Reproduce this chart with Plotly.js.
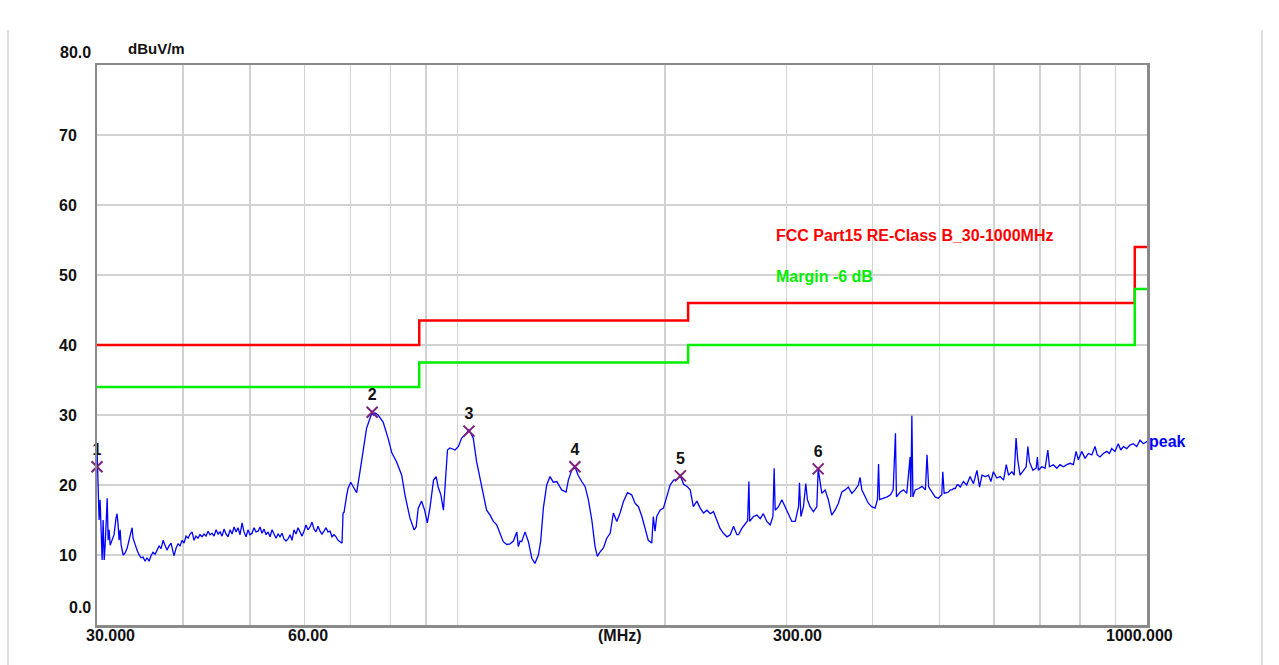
<!DOCTYPE html>
<html>
<head>
<meta charset="utf-8">
<script src="https://cdn.plot.ly/plotly-3.0.1.min.js"></script>
<style>
  html, body { margin: 0; padding: 0; background: #ffffff; }
  #chart { width: 1279px; height: 665px; }
</style>
</head>
<body>
<div id="chart"></div>
<script>
// ---- Measured spectrum (peak detector) ----
const traceFreq = [
  30.00,30.10,30.21,30.31,30.41,30.52,30.62,30.73,30.83,31.04,31.14,31.24,31.35,31.55,31.76,31.97,
  32.08,32.19,32.30,32.41,32.52,32.74,32.96,33.18,33.40,33.62,33.73,33.84,34.06,34.29,34.53,34.76,
  34.99,35.23,35.46,35.70,35.93,36.17,36.42,36.67,36.91,37.16,37.41,37.65,37.90,38.16,38.42,38.68,
  38.81,39.07,39.33,39.59,39.86,40.12,40.39,40.67,40.94,41.21,41.48,41.75,42.03,42.32,42.60,42.89,
  43.18,43.47,43.76,44.05,44.35,44.65,44.95,45.25,45.55,45.85,46.16,46.47,46.79,47.10,47.42,47.73,
  48.05,48.37,48.70,49.02,49.35,49.67,50.00,50.34,50.68,51.03,51.37,51.71,52.05,52.41,52.76,53.12,
  53.47,53.82,54.18,54.55,54.92,55.28,55.65,56.02,56.40,56.78,57.16,57.54,57.92,58.31,58.71,59.10,
  59.49,59.88,60.29,60.69,61.10,61.51,61.92,62.34,62.76,63.18,63.60,64.02,64.46,64.89,65.33,65.76,
  66.20,66.65,67.10,67.55,68.00,
  68.23,68.46,69.08,69.38,70.00,70.50,71.40,72.20,72.90,73.80,74.70,75.20,75.50,75.90,76.70,78.00,
  79.30,80.30,81.60,83.00,83.90,85.30,86.50,87.10,87.70,88.70,89.60,90.40,91.20,92.30,93.10,93.80,
  94.60,95.40,95.90,96.70,97.50,99.20,100.30,101.40,103.10,103.80,104.30,105.40,106.60,107.80,109.00,
  110.20,111.50,112.70,114.00,115.20,116.50,117.90,119.20,120.50,121.90,122.50,123.20,123.90,125.30,
  126.70,128.20,129.50,131.00,132.00,133.20,134.70,136.20,137.70,139.30,
  141.60,143.70,144.80,146.40,148.00,149.60,151.40,153.10,154.80,156.60,158.30,159.50,160.90,162.80,
  164.60,166.50,168.30,170.20,172.10,174.00,176.40,178.90,180.90,183.00,185.10,187.10,189.10,191.30,
  192.30,193.40,194.50,196.70,198.90,201.10,203.40,205.80,208.10,210.50,212.80,215.20,217.50,219.80,
  222.40,224.90,227.40,230.00,232.60,235.10,237.70,240.30,243.00,245.90,248.60,251.40,254.20,255.60,
  258.40,261.30,263.50,264.60,265.30,268.70,271.80,274.80,277.70,280.90,
  284.10,286.70,287.90,288.90,292.10,295.40,298.60,301.90,305.40,308.90,312.30,313.30,314.80,317.50,
  320.00,321.70,324.50,328.20,332.00,333.50,334.90,337.60,341.30,345.00,348.90,352.80,356.80,360.90,
  364.90,368.90,373.10,377.20,381.40,383.60,385.80,390.10,394.30,398.70,403.30,406.50,408.00,409.40,
  415.10,419.90,424.60,428.40,431.70,433.10,438.80,443.50,448.30,453.30,454.40,456.00,457.60,461.20,
  466.50,471.80,477.10,479.70,482.30,487.60,492.90,498.10,503.90,505.60,507.90,515.40,518.40,521.40,
  524.20,527.20,530.20,533.00,536.00,541.70,547.70,553.80,560.20,566.70,571.70,576.30,582.70,589.00,
  593.70,598.70,605.60,612.50,619.40,625.00,629.80,636.90,641.70,645.80,649.40,654.50,661.90,668.00,
  671.80,675.40,683.10,690.50,693.50,695.70,703.60,711.60,718.10,722.00,731.60,739.90,747.80,756.20,
  765.00,773.60,782.10,789.10,795.10,804.10,813.20,822.30,831.60,840.70,847.00,854.70,864.30,874.30,
  881.90,888.90,898.50,908.60,916.00,924.10,934.60,944.70,955.20,966.30,977.10,987.90,999.00,1000.00
];
const traceLevel = [
  25.4,19.3,15.0,17.9,12.1,9.3,15.0,9.3,11.4,18.1,12.1,13.6,11.4,12.1,12.9,15.3,
  15.9,14.3,12.1,13.6,11.4,10.0,10.3,11.0,12.1,13.6,13.9,12.4,11.4,10.7,10.0,9.6,
  9.7,9.1,9.6,9.1,9.9,10.4,10.1,10.7,11.3,10.9,12.1,11.4,10.7,11.3,11.7,10.4,
  9.9,11.0,11.6,11.3,12.1,11.7,12.7,12.4,13.0,13.3,12.1,12.7,12.4,12.9,12.6,13.0,
  12.7,13.4,12.9,13.1,12.7,13.6,13.0,13.3,12.7,13.7,13.0,12.6,13.6,13.0,14.0,13.3,
  13.9,12.9,14.6,13.3,12.6,13.6,12.9,13.1,13.9,13.3,13.4,14.0,13.1,13.7,12.9,13.3,
  12.6,13.6,13.1,12.4,13.0,12.6,13.1,12.3,12.0,12.3,12.9,12.1,13.6,13.0,13.9,13.3,
  12.7,13.4,14.3,13.6,14.0,14.7,13.7,13.3,14.1,13.4,13.0,13.4,13.9,13.3,13.4,12.6,
  12.9,12.6,12.1,11.9,11.7,
  16.0,16.1,18.6,19.5,20.4,19.8,18.9,21.9,24.7,28.1,29.6,30.4,30.0,30.3,30.0,29.0,
  26.7,24.6,23.3,21.4,18.6,15.3,13.6,14.0,16.7,17.7,16.4,14.6,16.7,20.7,21.2,19.6,
  18.6,16.4,19.6,25.0,25.3,25.0,25.5,26.7,27.4,27.9,27.6,26.7,23.3,21.0,18.6,
  16.4,15.7,14.8,14.3,13.1,11.9,11.5,11.6,12.0,13.3,11.2,12.0,11.9,13.3,
  11.9,9.5,8.8,10.0,11.9,16.7,20.0,21.2,20.4,20.5,
  19.3,19.0,20.7,22.1,22.6,21.4,20.5,19.8,17.9,15.0,11.2,9.8,10.4,11.0,
  12.4,13.1,16.0,14.8,16.0,17.6,18.9,18.6,17.4,16.9,15.5,13.6,12.1,11.7,
  15.5,13.4,15.5,16.4,16.7,18.3,20.0,20.7,20.8,21.3,20.1,19.8,19.3,16.9,
  17.7,16.7,16.0,16.4,15.9,16.2,15.0,13.8,13.1,12.6,12.9,14.1,12.9,12.9,
  13.8,14.5,14.9,20.5,14.8,15.5,15.7,15.2,15.9,14.8,
  14.3,15.5,22.4,16.4,16.9,17.9,16.9,16.0,14.8,14.8,16.9,20.3,15.5,16.9,
  20.2,17.9,16.9,16.2,16.9,22.3,21.0,18.8,19.3,17.9,15.7,16.4,17.4,19.0,
  19.3,19.7,18.8,19.3,20.0,21.1,19.3,18.3,17.4,16.9,16.7,17.9,23.0,17.9,
  18.1,18.3,18.6,19.3,27.4,18.3,19.0,19.3,18.8,24.0,18.3,29.9,18.3,19.3,
  19.5,19.8,19.3,24.3,19.7,19.0,18.3,18.1,18.6,21.9,18.8,19.0,19.3,19.3,
  19.5,19.5,20.0,20.0,19.7,20.5,20.0,21.2,20.2,22.1,19.7,21.4,21.2,21.4,
  20.5,21.9,21.0,21.2,20.7,22.9,21.4,21.9,21.4,26.7,23.6,21.4,22.1,22.6,
  25.5,23.3,22.1,22.4,24.0,22.1,22.6,22.4,25.0,22.6,22.9,22.4,22.9,22.6,
  22.9,23.1,22.9,24.8,23.6,24.8,23.8,24.5,24.3,25.5,24.3,24.0,24.5,24.8,
  24.5,25.2,24.8,25.9,25.0,25.5,25.2,25.7,25.9,25.5,26.4,25.9,26.2,26.2
];

// ---- Limit lines ----
const limitFreq  = [30, 88, 216, 960, 1000];
const fccLimit   = [40.0, 43.5, 46.0, 54.0, 54.0];
const marginLine = [34.0, 37.5, 40.0, 48.0, 48.0];

// ---- Marked peaks ----
const markerFreq   = [30.0, 75.2, 103.9, 148.0, 210.5, 333.5];
const markerLevel  = [22.6, 30.4, 27.7, 22.6, 21.3, 22.3];
const markerLabels = ['1', '2', '3', '4', '5', '6'];

// ---- Axis labels ----
const xTickLabels = ['30.000', '60.00', '(MHz)', '300.00', '1000.000'];
const yTickLabels = ['80.0', '70', '60', '50', '40', '30', '20', '10', '0.0'];
const xGridVals = [40, 50, 60, 70, 80, 90, 100, 200, 300, 400, 500, 600, 700, 800, 900];

// ---- Layout helpers (pixel -> paper) ----
const PL = 97, PR = 1147, PT = 65, PB = 625;
const px2paperX = p => (p - PL) / (PR - PL);
const py2paperY = p => (PB - p) / (PB - PT);

const FONT = 'Arial, "Liberation Sans", sans-serif';

const traces = [
  {
    x: limitFreq, y: fccLimit, type: 'scatter', mode: 'lines',
    line: { color: '#ff0000', width: 2.5, shape: 'hv' }, hoverinfo: 'skip'
  },
  {
    x: limitFreq, y: marginLine, type: 'scatter', mode: 'lines',
    line: { color: '#00ee00', width: 2.5, shape: 'hv' }, hoverinfo: 'skip'
  },
  {
    x: traceFreq, y: traceLevel, type: 'scatter', mode: 'lines',
    line: { color: '#0000ff', width: 1.3 }
  },
  {
    x: markerFreq, y: markerLevel, type: 'scatter', mode: 'markers+text',
    text: markerLabels, textposition: 'top center',
    textfont: { family: FONT, size: 16, color: '#111111', weight: 'bold' },
    marker: { symbol: 'x-thin', size: 11, line: { color: '#7d1f7d', width: 2 }, color: '#7d1f7d' },
    cliponaxis: false
  }
];

// tick label annotations
const xTickPx = [110, 308, 620, 797, 1139];
const annotations = [];
xTickLabels.forEach((t, i) => {
  annotations.push({
    xref: 'paper', yref: 'paper', x: px2paperX(xTickPx[i]), y: py2paperY(635),
    text: '<b>' + t + '</b>', showarrow: false, xanchor: 'center', yanchor: 'middle',
    font: { family: FONT, size: 16, color: '#111111' }
  });
});
const yTickPy = [52, 135, 205, 275, 345, 415, 485, 555, 607];
yTickLabels.forEach((t, i) => {
  const rightAligned = (t.indexOf('.') >= 0);
  annotations.push({
    xref: 'paper', yref: 'paper',
    x: rightAligned ? px2paperX(93) : px2paperX(57),
    y: py2paperY(yTickPy[i]),
    text: '<b>' + t + '</b>', showarrow: false,
    xanchor: rightAligned ? 'right' : 'left', yanchor: 'middle',
    font: { family: FONT, size: 16, color: '#111111' }
  });
});
annotations.push({
  xref: 'paper', yref: 'paper', x: px2paperX(126), y: py2paperY(48),
  text: '<b>dBuV/m</b>', showarrow: false, xanchor: 'left', yanchor: 'middle',
  font: { family: FONT, size: 15, color: '#111111' }
});
annotations.push({
  xref: 'paper', yref: 'paper', x: px2paperX(774), y: py2paperY(235),
  text: '<b>FCC Part15 RE-Class B_30-1000MHz</b>', showarrow: false, xanchor: 'left', yanchor: 'middle',
  font: { family: FONT, size: 16, color: '#ff0000' }
});
annotations.push({
  xref: 'paper', yref: 'paper', x: px2paperX(774), y: py2paperY(276),
  text: '<b>Margin -6 dB</b>', showarrow: false, xanchor: 'left', yanchor: 'middle',
  font: { family: FONT, size: 16, color: '#00ee00' }
});
annotations.push({
  xref: 'paper', yref: 'y', x: 1.0, y: traceLevel[traceLevel.length - 1],
  text: '<b>peak</b>', showarrow: false, xanchor: 'left', yanchor: 'middle',
  font: { family: FONT, size: 16, color: '#0000ff' }
});

const layout = {
  width: 1279, height: 665,
  margin: { l: PL, r: 1279 - PR, t: PT, b: 665 - PB, pad: 0 },
  paper_bgcolor: '#ffffff', plot_bgcolor: '#ffffff',
  showlegend: false,
  xaxis: {
    type: 'log', range: [Math.log10(30), Math.log10(1000)],
    tickvals: xGridVals, showticklabels: false, ticks: '',
    showgrid: true, gridcolor: '#d2d2d2', gridwidth: 1.5,
    showline: true, linecolor: '#8a8a8a', linewidth: 2.5, mirror: true,
    zeroline: false, fixedrange: true
  },
  yaxis: {
    range: [0, 80], tickvals: [10, 20, 30, 40, 50, 60, 70], showticklabels: false, ticks: '',
    showgrid: true, gridcolor: '#d2d2d2', gridwidth: 1.5,
    showline: true, linecolor: '#8a8a8a', linewidth: 2.5, mirror: true,
    zeroline: false, fixedrange: true
  },
  annotations: annotations,
  shapes: [
    { type: 'line', xref: 'paper', yref: 'paper', x0: px2paperX(8), x1: px2paperX(8),
      y0: py2paperY(30), y1: py2paperY(665), line: { color: '#bdbdbd', width: 1 } },
    { type: 'line', xref: 'paper', yref: 'paper', x0: px2paperX(1262), x1: px2paperX(1262),
      y0: py2paperY(30), y1: py2paperY(665), line: { color: '#bdbdbd', width: 1 } }
  ]
};

Plotly.newPlot('chart', traces, layout, { displayModeBar: false, staticPlot: true });
</script>
</body>
</html>
